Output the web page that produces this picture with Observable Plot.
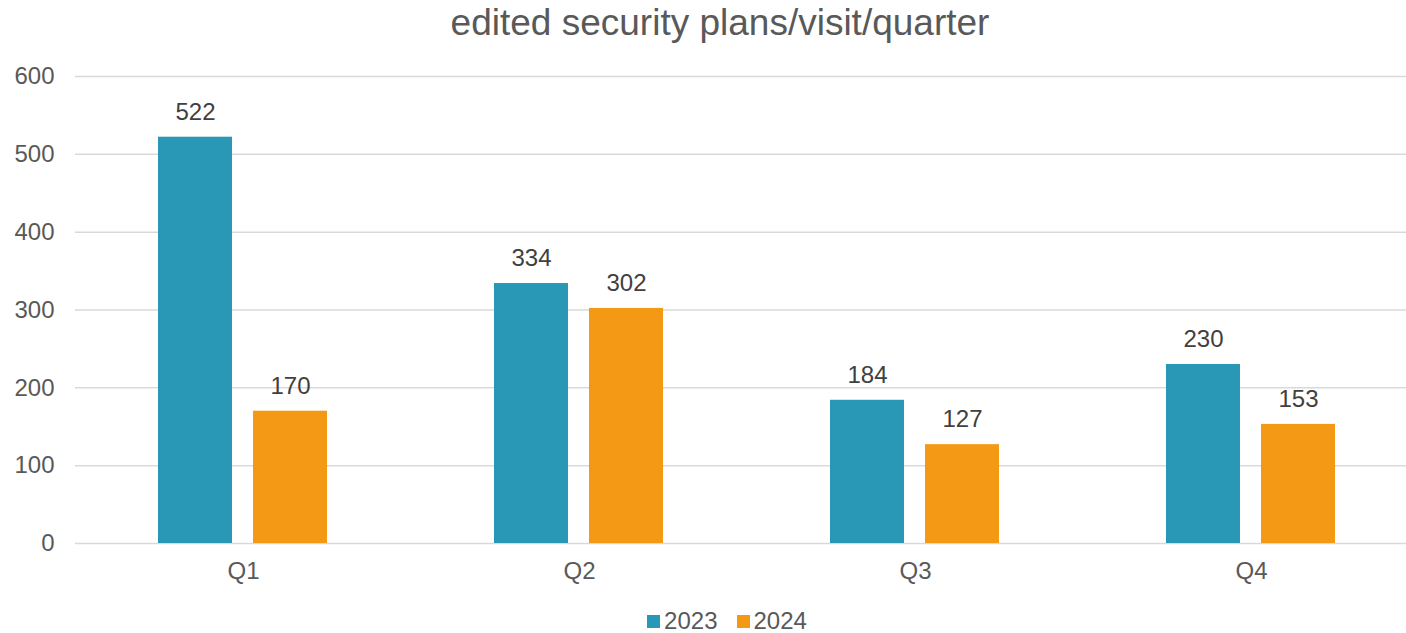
<!DOCTYPE html>
<html>
<head>
<meta charset="utf-8">
<script src="https://cdn.jsdelivr.net/npm/d3@7"></script>
<script src="https://cdn.jsdelivr.net/npm/@observablehq/plot@0.6"></script>
<style>
  html, body { margin: 0; padding: 0; background: #fff; overflow: hidden; }
  body { width: 1406px; height: 633px; font-family: "Liberation Sans", Arial, sans-serif; }
  #title { height: 50px; line-height: 46px; text-align: center; font-size: 37px; color: #595959; padding-left: 34px; }
  #chart svg { display: block; overflow: hidden; }
  #legend { display: flex; justify-content: center; align-items: center; gap: 19px; font-size: 24px; color: #595959; margin-top: 17px; padding-left: 48px; }
  #legend .item { display: flex; align-items: center; gap: 4px; }
  #legend .sw { width: 13px; height: 13px; display: inline-block; }
</style>
</head>
<body>
<div id="title">edited security plans/visit/quarter</div>
<div id="chart"></div>
<div id="legend"></div>
<script>
const quarters = ["Q1", "Q2", "Q3", "Q4"];
const years = ["2023", "2024"];
const values2023 = [522, 334, 184, 230];
const values2024 = [170, 302, 127, 153];
const yTicks = [0, 100, 200, 300, 400, 500, 600];
const colors = ["#2998B6", "#F39916"];

const data = [];
quarters.forEach((q, i) => {
  data.push({quarter: q, year: years[0], value: values2023[i]});
  data.push({quarter: q, year: years[1], value: values2024[i]});
});

const chart = Plot.plot({
  width: 1406,
  height: 540,
  marginTop: 26,
  marginBottom: 47,
  marginLeft: 74,
  marginRight: -14,
  style: {fontFamily: "'Liberation Sans', Arial, sans-serif", fontSize: "24px", color: "#595959", background: "#fff"},
  fx: {domain: quarters, padding: 0, label: null, axis: null},
  x: {domain: years, paddingInner: 0.22, paddingOuter: 0.8625, axis: null},
  y: {domain: [0, 600], ticks: yTicks, label: null, axis: null},
  color: {domain: years, range: colors},
  marks: [
    Plot.ruleY(yTicks, {stroke: "#D9D9D9", strokeWidth: 1.5}),
    Plot.barY(data, {fx: "quarter", x: "year", y: "value", fill: "year"}),
    Plot.text(data, {fx: "quarter", x: "year", y: "value", text: d => String(d.value), dy: -25, fill: "#404040", fontSize: 24}),
    Plot.axisY(yTicks, {tickSize: 0, tickPadding: 0, anchor: "left", dx: -21, fill: "#595959", fontSize: 24, label: null}),
    Plot.axisFx({anchor: "bottom", tickSize: 0, tickPadding: 18, fill: "#595959", fontSize: 24, label: null})
  ]
});
document.getElementById("chart").appendChild(chart);

const legend = document.getElementById("legend");
years.forEach((y, i) => {
  const it = document.createElement("span");
  it.className = "item";
  it.innerHTML = `<span class="sw" style="background:${colors[i]}"></span><span>${y}</span>`;
  legend.appendChild(it);
});
</script>
</body>
</html>
